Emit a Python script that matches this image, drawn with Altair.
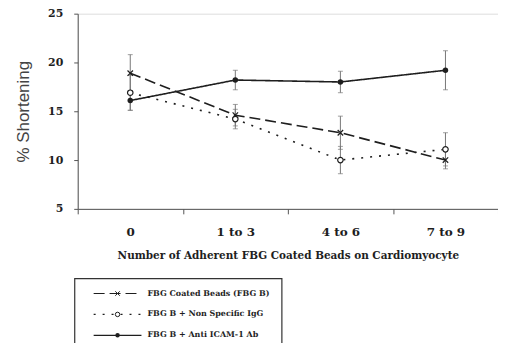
import altair as alt
import pandas as pd

categories = ["0", "1 to 3", "4 to 6", "7 to 9"]
series_names = ["FBG Coated Beads (FBG B)", "FBG B + Non Specific IgG", "FBG B + Anti ICAM-1 Ab"]
beads_mean = [18.9, 14.6, 12.8, 10.0]
beads_err = [1.9, 1.1, 1.7, 0.9]
igg_mean = [16.9, 14.2, 10.0, 11.1]
igg_err = [1.8, 1.0, 1.4, 1.7]
icam_mean = [16.1, 18.2, 18.0, 19.2]
icam_err = [1.0, 1.0, 1.1, 2.0]

means = [beads_mean, igg_mean, icam_mean]
errs = [beads_err, igg_err, icam_err]

rows = []
for name, m, e in zip(series_names, means, errs):
    for c, v, d in zip(categories, m, e):
        rows.append({"cat": c, "series": name, "val": v, "lo": v - d, "hi": v + d})
df = pd.DataFrame(rows)

SERIF = "DejaVu Serif"
INK = "#1e1e1e"

styles = {
    series_names[0]: {"dash": [11, 5], "shape": "M-1,-1L1,1M-1,1L1,-1", "filled": False},
    series_names[1]: {"dash": [2, 7], "shape": "circle", "filled": False},
    series_names[2]: {"dash": [1, 0], "shape": "circle", "filled": True},
}

xenc = alt.X("cat:N", sort=categories, bandPosition=0.5,
             scale=alt.Scale(type="band", paddingInner=0, paddingOuter=0),
             axis=alt.Axis(title="Number of Adherent FBG Coated Beads on Cardiomyocyte",
                           labelAngle=0, tickBand="extent", labelFont=SERIF, labelFontWeight="bold",
                           labelFontSize=12, labelColor=INK, labelPadding=13,
                           titleFont=SERIF, titleFontWeight="bold", titleFontSize=10.5,
                           titleColor=INK, titlePadding=13, domainColor="#555", tickColor="#555",
                           tickSize=5, grid=False))
yscale = alt.Scale(domain=[5, 25], nice=False, zero=False)
yenc = alt.Y("val:Q", scale=yscale,
             axis=alt.Axis(title="% Shortening", values=[5, 10, 15, 20, 25],
                           labelFont=SERIF, labelFontWeight="bold", labelFontSize=11,
                           labelColor=INK, labelPadding=11,
                           titleFont="Liberation Sans", titleFontWeight="normal",
                           titleFontSize=17, titleColor="#444", titlePadding=15,
                           domainColor="#555", tickColor="#555", tickSize=4, grid=False))

base = alt.Chart(df)
layers = []
# error bars
layers.append(base.mark_rule(color="#777", strokeWidth=1).encode(
    x=xenc, y=alt.Y("lo:Q", scale=yscale), y2="hi:Q"))
layers.append(base.mark_tick(color="#777", thickness=1, size=5).encode(
    x=xenc, y=alt.Y("lo:Q", scale=yscale)))
layers.append(base.mark_tick(color="#777", thickness=1, size=5).encode(
    x=xenc, y=alt.Y("hi:Q", scale=yscale)))

for name in series_names:
    st = styles[name]
    sub = base.transform_filter(alt.datum.series == name)
    layers.append(sub.mark_line(color=INK, strokeWidth=1.6, strokeDash=st["dash"]).encode(x=xenc, y=yenc))
    layers.append(sub.mark_point(shape=st["shape"], filled=st["filled"], color=INK,
                                 fill=INK if st["filled"] else "white", strokeWidth=1.2,
                                 size=30, opacity=1).encode(x=xenc, y=yenc))

# legend
one = alt.Chart(pd.DataFrame({"a": [0]}))
layers.append(one.mark_rect(fill="white", stroke="#333", strokeWidth=1.2).encode(
    x=alt.value(-3), x2=alt.value(205), y=alt.value(266), y2=alt.value(345)))
legend_y = [281, 302, 323]
for i, name in enumerate(series_names):
    st = styles[name]
    yy = legend_y[i]
    layers.append(one.mark_rule(color=INK, strokeWidth=1.2, strokeDash=st["dash"] if i < 2 else [1, 0]).encode(
        x=alt.value(16), x2=alt.value(64), y=alt.value(yy)))
    layers.append(one.mark_point(shape=st["shape"], filled=st["filled"], color=INK,
                                 fill=INK if st["filled"] else "white", size=20, strokeWidth=1,
                                 opacity=1).encode(x=alt.value(40), y=alt.value(yy)))
    layers.append(one.mark_text(text=name, align="left", baseline="middle", font=SERIF,
                                fontWeight="bold", fontSize=8, color=INK).encode(
        x=alt.value(70), y=alt.value(yy)))

chart = alt.layer(*layers).properties(
    width=422, height=196,
    autosize=alt.AutoSizeParams(type="none"),
    padding={"left": 70, "top": 5, "right": 0, "bottom": 134},
).configure_view(stroke=None).configure(background="white")

chart.save("out.html", embed_options={"renderer": "svg", "actions": False})
